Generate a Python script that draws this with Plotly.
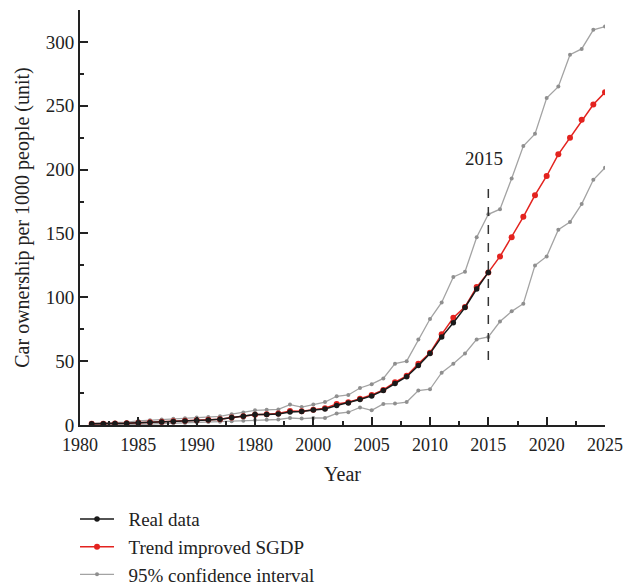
import plotly.graph_objects as go

# Car ownership per 1000 people: observed series, SGDP trend forecast and its 95% band
real_years = list(range(1981, 2016))
real_data = [1.0, 1.0, 1.1, 1.3, 1.7, 2.0, 2.4, 2.8, 3.2, 3.6,
             4.0, 4.6, 5.8, 6.8, 8.2, 8.3, 8.6, 10.2, 10.6, 11.8,
             12.6, 15.2, 17.3, 20.0, 22.8, 27.0, 32.5, 37.8, 46.5, 56.0,
             69.0, 80.0, 92.0, 106.5, 119.5]

trend_years = list(range(1981, 2026))
trend_sgdp = [1.0, 1.0, 1.1, 1.3, 1.7, 2.1, 2.5, 2.9, 3.3, 3.7,
              4.1, 4.6, 5.8, 6.8, 8.0, 8.4, 9.0, 11.0, 10.8, 12.0,
              13.2, 16.5, 17.8, 20.5, 23.5, 27.5, 33.5, 38.5, 48.0, 56.5,
              71.0, 84.0, 92.5, 108.0, 119.5, 132.0, 147.0, 163.0, 180.0, 195.0,
              212.0, 225.0, 239.0, 251.0, 260.5]

ci_upper = [1.2, 1.4, 1.7, 2.2, 3.2, 3.8, 4.3, 4.8, 5.3, 5.8,
            6.3, 6.8, 8.5, 9.8, 11.5, 11.9, 12.2, 16.0, 14.0, 16.0,
            18.0, 22.5, 23.5, 29.0, 32.0, 36.5, 48.0, 50.0, 67.0, 83.0,
            96.0, 116.0, 120.0, 147.0, 165.0, 169.0, 193.0, 218.5, 228.0, 256.0,
            265.0, 290.0, 294.5, 309.5, 312.0]
ci_lower = [0.2, 0.2, 0.3, 0.4, 0.6, 0.8, 1.0, 1.3, 1.6, 2.0,
            2.3, 2.6, 3.0, 3.4, 4.0, 4.2, 4.3, 5.5, 5.0, 5.5,
            5.5, 9.0, 10.0, 13.8, 11.5, 16.5, 16.8, 18.0, 27.0, 28.0,
            41.0, 48.0, 56.0, 67.0, 69.0, 81.0, 89.0, 95.0, 125.0, 132.0,
            153.0, 159.0, 173.0, 192.0, 201.5]

x_tick_vals = [1980, 1985, 1990, 1995, 2000, 2005, 2010, 2015, 2020, 2025]
x_tick_text = ["1980", "1985", "1990", "1980", "2000", "2005", "2010", "2015", "2020", "2025"]
y_tick_vals = [0, 50, 100, 150, 200, 250, 300]

split_year = 2015
split_low, split_high = 51, 190
split_label_y = 209

FONT = "Liberation Serif, Times New Roman, serif"
FS = 20
GRAY = "#a3a3a3"
RED = "#e3231f"
BLACK = "#1a1a1a"
PAD = "\u00a0\u00a0"  # small gap between legend symbol and label

fig = go.Figure()

fig.add_trace(go.Scatter(
    x=trend_years, y=ci_upper, mode="lines+markers", name=PAD + "95% confidence interval",
    line=dict(color=GRAY, width=1.3),
    marker=dict(color="#8f8f8f", size=4, symbol="circle"),
    legendrank=3,
))
fig.add_trace(go.Scatter(
    x=trend_years, y=ci_lower, mode="lines+markers", name=PAD + "95% confidence interval",
    line=dict(color=GRAY, width=1.3),
    marker=dict(color="#8f8f8f", size=4, symbol="circle"),
    showlegend=False,
))
fig.add_trace(go.Scatter(
    x=trend_years, y=trend_sgdp, mode="lines+markers", name=PAD + "Trend improved SGDP",
    line=dict(color=RED, width=1.5),
    marker=dict(color=RED, size=6),
    legendrank=2,
))
fig.add_trace(go.Scatter(
    x=real_years, y=real_data, mode="lines+markers", name=PAD + "Real data",
    line=dict(color=BLACK, width=1.5),
    marker=dict(color=BLACK, size=5.5),
    legendrank=1,
))

fig.add_shape(type="line", x0=split_year, x1=split_year, y0=split_low, y1=split_high,
              xref="x", yref="y", line=dict(color="#333333", width=1.5, dash="dash"))
fig.add_annotation(x=split_year, y=split_label_y, text=str(split_year), showarrow=False,
                   xshift=-4, font=dict(family=FONT, size=19, color="#222222"))

fig.update_layout(
    width=623, height=588,
    margin=dict(l=80, r=18, t=10, b=163, autoexpand=False),
    paper_bgcolor="white", plot_bgcolor="white",
    font=dict(family=FONT, size=FS, color="#222222"),
    showlegend=True,
    legend=dict(x=-0.0095, y=-0.181, xanchor="left", yanchor="top",
                font=dict(family=FONT, size=19, color="#222222"),
                itemwidth=34, tracegroupgap=0, bgcolor="rgba(0,0,0,0)"),
)

fig.update_xaxes(
    range=[1980, 2025], tickmode="array", tickvals=x_tick_vals, ticktext=x_tick_text,
    showgrid=False, zeroline=False, showline=True, linecolor="#222222", linewidth=2,
    ticks="inside", ticklen=8, tickwidth=1.5, tickcolor="#222222", automargin=False,
    ticklabeloverflow="allow", ticklabelstandoff=2,
    minor=dict(ticks="inside", ticklen=4, tickwidth=1.5, tickcolor="#222222", dtick=2.5, tick0=1980),
    title=dict(text="Year", standoff=13, font=dict(family=FONT, size=FS)),
    tickfont=dict(family=FONT, size=18),
)
fig.update_yaxes(
    range=[0, 325], tickmode="array", tickvals=y_tick_vals,
    showgrid=False, zeroline=False, showline=True, linecolor="#222222", linewidth=2,
    ticks="inside", ticklen=8, tickwidth=1.5, tickcolor="#222222", automargin=False,
    minor=dict(ticks="inside", ticklen=4, tickwidth=1.5, tickcolor="#222222", dtick=25, tick0=0),
    title=dict(text="Car ownership per 1000 people (unit)", standoff=11, font=dict(family=FONT, size=FS)),
    tickfont=dict(family=FONT, size=19),
)

fig.write_html("out.html")
